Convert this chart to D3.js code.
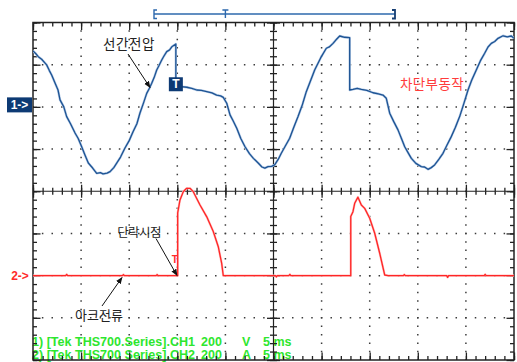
<!DOCTYPE html>
<html>
<head>
<meta charset="utf-8">
<script src="https://cdn.jsdelivr.net/npm/d3@7"></script>
<style>
  html, body { margin: 0; padding: 0; background: #fff; }
  svg { display: block; }
</style>
</head>
<body>
<script>
// Channel 1 — line-to-line voltage, time in ms, values in volts (200 V/div)
const ch1TimeMs = [0, 0.3, 0.55, 0.9, 1.42, 1.7, 1.94, 2.29, 2.6, 2.81, 3.2, 3.5, 3.9, 4.37, 4.7, 5.06, 5.4,
  5.75, 6.2, 6.62, 7.0, 7.28, 7.7, 8.01, 8.4, 8.7, 9.1, 9.56, 10.0, 10.4, 10.8,
  11.12, 11.5, 11.82, 12.1, 12.34, 12.6, 12.86, 13.1, 13.38, 13.6, 13.9, 14.2, 14.43, 14.85, 14.85, 15.4, 15.99,
  16.5, 17.02, 17.5, 18.06, 18.6, 19.09, 19.5, 19.78, 20.14,
  20.48, 20.8, 21.18, 21.6, 22.04, 22.5, 22.91, 23.43, 23.8, 24.1, 24.43, 24.8, 25.12, 25.5, 25.81, 26.2, 26.68,
  27.1, 27.55, 28.0, 28.41, 28.8, 29.28, 29.9, 30.49, 30.8, 31.19, 31.5,
  31.88, 32.4, 32.92, 32.92, 33.26, 33.7, 34.13, 34.7, 35.34, 35.9, 36.38, 36.72, 37.08, 37.5, 37.94, 38.3, 38.64,
  39.0, 39.33, 39.8, 40.36, 40.7, 41.06, 41.4, 41.75,
  42.2, 42.62, 43.0, 43.48, 43.9, 44.35, 44.8, 45.22, 45.6, 46.08, 46.5, 46.95, 47.3, 47.64, 48.0, 48.34, 48.86,
  49.3, 49.72, 50];
const ch1Volts = [265, 252, 238, 226, 199, 172, 151, 113, 80, 33, 0, -46, -80, -124, -150, -189, -228,
  -266, -290, -315, -312, -318, -314, -307, -288, -267, -238, -195, -160, -118, -80,
  -29, 20, 64, 88, 112, 140, 175, 196, 222, 240, 262, 270, 285, 298, 93, 96, 93,
  88, 80, 78, 72, 66, 56, 52, 45, 17,
  -38, -66, -101, -150, -189, -222, -244, -267, -285, -290, -283, -282, -275, -248, -220, -188, -149,
  -98, -46, 10, 72, 118, 175, 232, 278, 284, 301, 318,
  336, 330, 328, 80, 83, 88, 83, 78, 67, 62, 56, 41, -30, -70, -109, -150, -189,
  -218, -244, -268, -283, -285, -296, -288, -275,
  -248, -220, -184, -141, -98, -46, 18, 80, 126, 175, 218, 254, 284, 301, 310, 325, 337,
  332, 336, 325];

// Channel 2 — arc current, time in ms, values in amperes (200 A/div)
const ch2TimeMs = [0, 3.4, 3.5, 3.6, 9.3, 9.4, 9.5, 12.8, 12.9, 13.0, 15.04, 15.04, 15.28, 15.62, 15.97, 16.32,
  16.66, 17.36, 18.05, 18.74, 19.26, 19.61, 19.78, 25.2, 25.3, 25.4, 26.6, 26.7, 26.8, 33.03, 33.03, 33.26,
  33.44, 33.78, 34.13, 34.48, 35.0, 35.52, 36.04, 36.56, 36.9, 38.5, 38.6, 38.7, 43.0, 43.1, 43.2, 46.9,
  47.0, 47.1, 50];
const ch2Amps = [0, 0, 6, 0, 0, 5, 0, 0, 5, 0, 0, 297, 359, 398, 414, 414,
  398, 335, 280, 209, 137, 59, 0, 0, -6, 0, 0, 6, 0, 0, 280, 303,
  343, 372, 335, 319, 272, 201, 106, 3, 0, 0, 5, 0, 0, -8, 0, 0,
  6, 0, 0];

// Screen layout: 10 horizontal divisions x 8 vertical divisions
const msPerDiv = 5, hDivs = 10, vDivs = 8;
const ch1Range = [400, -1200];   // volts at top / bottom of the screen
const ch2Range = [1200, -400];   // amperes at top / bottom of the screen
const ch1Zero = 0, ch2Zero = 0;

// Annotations and readout text
const annotations = [
  { text: "선간전압", x: 129, y: 42.5, color: "#222", size: 13.5, spacing: 0.6, arrow: [[128, 54], [150, 87.5]] },
  { text: "차단부동작", x: 432, y: 83, color: "#ff3b3b", size: 13.5, spacing: 0.4, arrow: null },
  { text: "단락시점", x: 139, y: 231, color: "#222", size: 12.5, spacing: -0.6, arrow: [[156, 238.5], [177, 275.5]] },
  { text: "아크전류", x: 99, y: 314.5, color: "#222", size: 13, spacing: 0, arrow: [[102, 306], [122, 277.5]] }
];
const readoutSource = ["1) [Tek THS700.Series].CH1", "2) [Tek THS700 Series].CH2"];
const readoutScale = ["200", "200"];
const readoutUnit = ["V", "A"];
const readoutTime = ["5 ms", "5 ms"];

const W = 517, H = 362;
const scrLeft = 33, scrRight = 514, scrTop = 22.5, scrBottom = 360;

const svg = d3.select("body").append("svg").attr("width", W).attr("height", H);

const x = d3.scaleLinear().domain([0, msPerDiv * hDivs]).range([scrLeft, scrRight]);
const yDiv = d3.scaleLinear().domain([0, vDivs]).range([scrTop, scrBottom]);
const y1 = d3.scaleLinear().domain(ch1Range).range([scrTop, scrBottom]);
const y2 = d3.scaleLinear().domain(ch2Range).range([scrTop, scrBottom]);

const midT = msPerDiv * hDivs / 2, midDiv = vDivs / 2;
const frameColor = "#222";

// Dotted graticule
const gridG = svg.append("g");
const vGrid = d3.range(1, hDivs).map(i => i * msPerDiv).filter(t => t !== midT);
const hGrid = d3.range(1, vDivs).filter(d => d !== midDiv);
const dotV = (yDiv(1) - yDiv(0)) / 5, dotH = (x(msPerDiv) - x(0)) / 5;
gridG.selectAll("line.gv").data(vGrid).join("line").attr("class", "gv")
  .attr("x1", d => x(d)).attr("x2", d => x(d))
  .attr("y1", scrTop).attr("y2", scrBottom)
  .attr("stroke", "#3c3c3c").attr("stroke-width", 1.5)
  .attr("stroke-dasharray", `1.5 ${dotV - 1.5}`).attr("stroke-dashoffset", 0.75);
gridG.selectAll("line.gh").data(hGrid).join("line").attr("class", "gh")
  .attr("x1", scrLeft).attr("x2", scrRight)
  .attr("y1", d => yDiv(d)).attr("y2", d => yDiv(d))
  .attr("stroke", "#3c3c3c").attr("stroke-width", 1.5)
  .attr("stroke-dasharray", `1.5 ${dotH - 1.5}`).attr("stroke-dashoffset", 0.75);

// Readout text (drawn beneath the frame)
const readG = svg.append("g").attr("font-family", "'Liberation Sans', Arial, sans-serif")
  .attr("font-weight", "bold").attr("font-size", 12.5).attr("fill", "#2ee62e");
[0, 1].forEach(i => {
  const by = [346, 358.5][i];
  readG.append("text").attr("x", 32).attr("y", by).attr("textLength", 163)
    .attr("lengthAdjust", "spacingAndGlyphs").text(readoutSource[i]);
  readG.append("text").attr("x", 201).attr("y", by).text(readoutScale[i]);
  readG.append("text").attr("x", 242).attr("y", by).text(readoutUnit[i]);
  readG.append("text").attr("x", 263).attr("y", by).text(readoutTime[i]);
});

// Centre cross-hair
svg.append("line").attr("x1", scrLeft).attr("x2", scrRight).attr("y1", yDiv(midDiv)).attr("y2", yDiv(midDiv))
  .attr("stroke", frameColor).attr("stroke-width", 1.2);
svg.append("line").attr("x1", x(midT)).attr("x2", x(midT)).attr("y1", scrTop).attr("y2", scrBottom)
  .attr("stroke", frameColor).attr("stroke-width", 1.2);

const minorT = d3.range(0, hDivs * 5 + 1).map(i => i * msPerDiv / 5);
const majorT = d3.range(0, hDivs + 1).map(i => i * msPerDiv);
const minorD = d3.range(0, vDivs * 5 + 1).map(i => i / 5);
const majorD = d3.range(0, vDivs + 1);

function tickAxis(axis, transform) {
  const g = svg.append("g").attr("transform", transform).call(axis);
  g.select(".domain").remove();
  g.selectAll("text").remove();
  g.selectAll("line").attr("stroke", frameColor).attr("stroke-width", 1.3);
  return g;
}
// Frame edges: ticks point inward
tickAxis(d3.axisBottom(x).tickValues(minorT).tickSize(4).tickFormat(""), `translate(0,${scrTop})`);
tickAxis(d3.axisBottom(x).tickValues(majorT).tickSize(7.5).tickFormat(""), `translate(0,${scrTop})`);
tickAxis(d3.axisTop(x).tickValues(minorT).tickSize(4).tickFormat(""), `translate(0,${scrBottom})`);
tickAxis(d3.axisTop(x).tickValues(majorT).tickSize(7.5).tickFormat(""), `translate(0,${scrBottom})`);
tickAxis(d3.axisRight(yDiv).tickValues(minorD).tickSize(4).tickFormat(""), `translate(${scrLeft},0)`);
tickAxis(d3.axisRight(yDiv).tickValues(majorD).tickSize(7.5).tickFormat(""), `translate(${scrLeft},0)`);
tickAxis(d3.axisLeft(yDiv).tickValues(minorD).tickSize(4).tickFormat(""), `translate(${scrRight},0)`);
tickAxis(d3.axisLeft(yDiv).tickValues(majorD).tickSize(7.5).tickFormat(""), `translate(${scrRight},0)`);
// Centre lines: ticks cross both sides
const cy = yDiv(midDiv), cx = x(midT);
tickAxis(d3.axisBottom(x).tickValues(minorT).tickSize(3.5).tickFormat(""), `translate(0,${cy})`);
tickAxis(d3.axisTop(x).tickValues(minorT).tickSize(3.5).tickFormat(""), `translate(0,${cy})`);
tickAxis(d3.axisBottom(x).tickValues(majorT).tickSize(6.5).tickFormat(""), `translate(0,${cy})`);
tickAxis(d3.axisTop(x).tickValues(majorT).tickSize(6.5).tickFormat(""), `translate(0,${cy})`);
tickAxis(d3.axisRight(yDiv).tickValues(minorD).tickSize(3.5).tickFormat(""), `translate(${cx},0)`);
tickAxis(d3.axisLeft(yDiv).tickValues(minorD).tickSize(3.5).tickFormat(""), `translate(${cx},0)`);
tickAxis(d3.axisRight(yDiv).tickValues(majorD).tickSize(6.5).tickFormat(""), `translate(${cx},0)`);
tickAxis(d3.axisLeft(yDiv).tickValues(majorD).tickSize(6.5).tickFormat(""), `translate(${cx},0)`);

// Frame
svg.append("rect").attr("x", scrLeft).attr("y", scrTop).attr("width", scrRight - scrLeft).attr("height", scrBottom - scrTop)
  .attr("fill", "none").attr("stroke", frameColor).attr("stroke-width", 1.5);

// Waveforms
svg.append("clipPath").attr("id", "scr").append("rect")
  .attr("x", scrLeft).attr("y", scrTop).attr("width", scrRight - scrLeft).attr("height", scrBottom - scrTop);

const ch1 = ch1TimeMs.map((t, i) => [t, ch1Volts[i]]);
const ch2 = ch2TimeMs.map((t, i) => [t, ch2Amps[i]]);
const line1 = d3.line().x(d => x(d[0])).y(d => y1(d[1]));
const line2 = d3.line().x(d => x(d[0])).y(d => y2(d[1]));

const traces = svg.append("g").attr("clip-path", "url(#scr)");
traces.append("path").attr("d", line1(ch1)).attr("fill", "none")
  .attr("stroke", "#b4cae6").attr("stroke-width", 2.4).attr("stroke-linejoin", "round");
traces.append("path").attr("d", line1(ch1)).attr("fill", "none")
  .attr("stroke", "#1d5393").attr("stroke-width", 1.3).attr("stroke-linejoin", "round");
traces.append("path").attr("d", line2(ch2)).attr("fill", "none")
  .attr("stroke", "#ffc0c0").attr("stroke-width", 2.3).attr("stroke-linejoin", "round");
traces.append("path").attr("d", line2(ch2)).attr("fill", "none")
  .attr("stroke", "#ff2626").attr("stroke-width", 1.3).attr("stroke-linejoin", "round");

// Trigger markers
const trigIdx = ch1Volts.indexOf(298) + 1;
const trigT = ch1TimeMs[trigIdx];
const trigV = ch1Volts[trigIdx];
svg.append("rect").attr("x", x(trigT) - 7).attr("y", y1(trigV) - 10).attr("width", 14).attr("height", 14)
  .attr("fill", "#0d3a74");
svg.append("text").attr("x", x(trigT)).attr("y", y1(trigV) - 3).attr("text-anchor", "middle")
  .attr("dominant-baseline", "central").attr("fill", "#fff").attr("font-weight", "bold")
  .attr("font-family", "'Liberation Sans', Arial, sans-serif").attr("font-size", 12).text("T");
svg.append("text").attr("x", x(ch2TimeMs[10]) - 3).attr("y", 259).attr("text-anchor", "middle")
  .attr("dominant-baseline", "central").attr("fill", "#ff2b2b").attr("font-weight", "bold")
  .attr("font-family", "'Liberation Sans', Arial, sans-serif").attr("font-size", 10).text("T");

// Channel reference markers
svg.append("rect").attr("x", 7).attr("y", y1(ch1Zero) - 9.5).attr("width", 25).attr("height", 15)
  .attr("fill", "#0d3a74");
svg.append("text").attr("x", 19.5).attr("y", y1(ch1Zero) - 2).attr("text-anchor", "middle")
  .attr("dominant-baseline", "central").attr("fill", "#fff").attr("font-weight", "bold")
  .attr("font-family", "'Liberation Sans', Arial, sans-serif").attr("font-size", 12).text("1->");
svg.append("text").attr("x", 20).attr("y", y2(ch2Zero)).attr("text-anchor", "middle")
  .attr("dominant-baseline", "central").attr("fill", "#ff2b2b").attr("font-weight", "bold")
  .attr("font-family", "'Liberation Sans', Arial, sans-serif").attr("font-size", 12).text("2->");

// Trigger position bar above the screen
const barY = 14;
const barG = svg.append("g").attr("stroke", "#2d68ad").attr("stroke-width", 1.4).attr("fill", "none");
barG.append("line").attr("x1", 154).attr("x2", 395).attr("y1", barY).attr("y2", barY);
barG.append("path").attr("d", `M157,10 H154 V18.5 H157`);
barG.append("path").attr("d", `M392,10 H395 V18.5 H392`).attr("stroke", "#173f73").attr("stroke-width", 1.8);
barG.append("path").attr("d", `M${x(20) - 3},10 H${x(20) + 3} M${x(20)},10 V18`);

// Annotations with arrows
const defs = svg.append("defs");
defs.append("marker").attr("id", "ah").attr("viewBox", "0 0 10 10").attr("refX", 9).attr("refY", 5)
  .attr("markerWidth", 7).attr("markerHeight", 7).attr("orient", "auto")
  .append("path").attr("d", "M0,1 L10,5 L0,9 Z").attr("fill", "#111");
annotations.forEach(a => {
  svg.append("text").attr("x", a.x).attr("y", a.y).attr("text-anchor", "middle")
    .attr("dominant-baseline", "central").attr("fill", a.color)
    .attr("font-family", "'Noto Sans CJK KR', sans-serif").attr("font-size", a.size)
    .attr("letter-spacing", a.spacing).text(a.text);
  if (a.arrow) {
    svg.append("line").attr("x1", a.arrow[0][0]).attr("y1", a.arrow[0][1])
      .attr("x2", a.arrow[1][0]).attr("y2", a.arrow[1][1])
      .attr("stroke", "#111").attr("stroke-width", 1).attr("marker-end", "url(#ah)");
  }
});
</script>
</body>
</html>
